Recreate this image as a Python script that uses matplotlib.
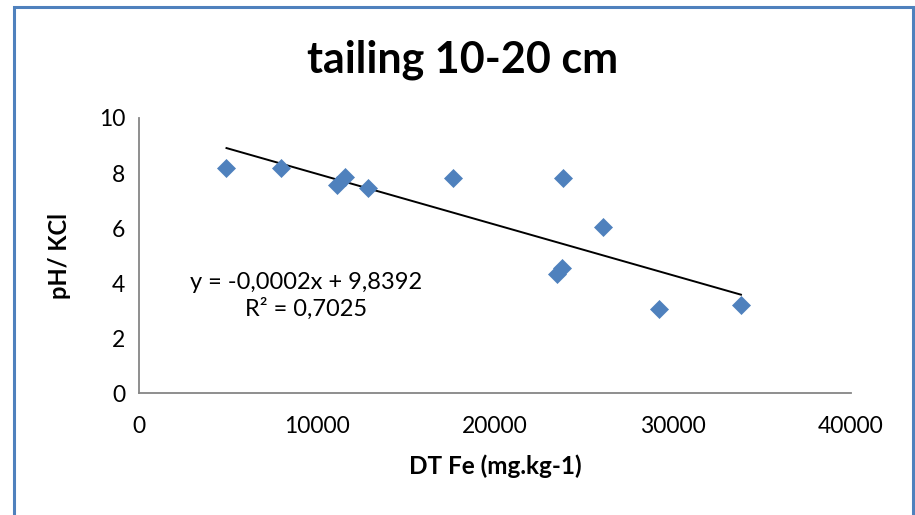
import numpy as np
import matplotlib.pyplot as plt
from matplotlib.patches import Rectangle

plt.rcParams['font.family'] = ['Lato', 'DejaVu Sans']

# data
fe = [4900, 7950, 11130, 11570, 12840, 17650, 23800, 26050, 23490, 23770, 29200, 33830]
ph = [8.17, 8.18, 7.57, 7.87, 7.47, 7.83, 7.82, 6.03, 4.33, 4.55, 3.06, 3.20]
xticks = [0, 10000, 20000, 30000, 40000]
yticks = [0, 2, 4, 6, 8, 10]
eq_text = "y = -0,0002x + 9,8392\nR² = 0,7025"

blue = '#4F81BD'
grey = '#868686'

fig = plt.figure(figsize=(9.15, 5.15), dpi=100)
ax = fig.add_axes([0.1523, 0.2363, 0.7774, 0.5346])

ax.plot(fe, ph, 'D', color=blue, ms=9.6, mec=blue, mew=0.5, zorder=3)

# linear trendline over the data range
k, b = np.polyfit(fe, ph, 1)
xs = np.array([min(fe), max(fe)])
ax.plot(xs, k * xs + b, color='black', lw=1.4, zorder=2)

ax.set_xlim(0, 40000)
ax.set_ylim(0, 10)
ax.set_xticks(xticks)
ax.set_yticks(yticks)
ax.tick_params(length=0, labelsize=16.5, pad=16, colors='black')
ax.tick_params(axis='y', pad=10)
for s in ['top', 'right']:
    ax.spines[s].set_visible(False)
for s in ['left', 'bottom']:
    ax.spines[s].set_color(grey)
    ax.spines[s].set_linewidth(1.3)

ax.set_xlabel('DT Fe (mg.kg-1)', fontsize=17.5, fontweight='bold', labelpad=13)
ax.set_ylabel('pH/ KCl', fontsize=17, fontweight='bold', labelpad=20)

ax.text(306.5 / 915, 1 - 296 / 515, eq_text, transform=fig.transFigure,
        ha='center', va='center', fontsize=17, linespacing=1.3)

fig.text(463 / 915, 1 - 72.7 / 515, 'tailing 10-20 cm', ha='center',
         va='baseline', fontsize=31, fontweight='bold')

# chart area frame
fig.patches.append(Rectangle((14 / 915, -0.05), (913 - 14) / 915, 1.05 - 7 / 515,
                             transform=fig.transFigure, fill=False,
                             edgecolor=blue, lw=2.2))

fig.savefig('out.png', dpi=100)
